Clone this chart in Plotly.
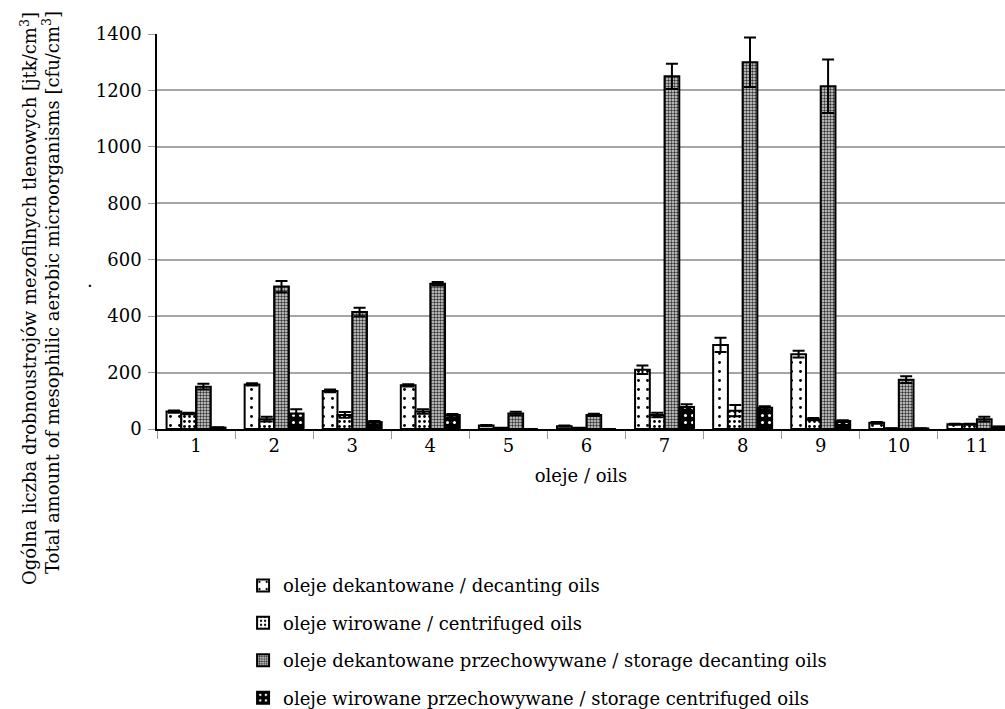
import plotly.graph_objects as go

categories = ["1", "2", "3", "4", "5", "6", "7", "8", "9", "10", "11"]

decanting = [62, 158, 135, 155, 12, 10, 210, 298, 265, 22, 17]
decanting_err = [4, 4, 5, 4, 2, 2, 15, 25, 12, 3, 2]

centrifuged = [55, 35, 50, 62, 3, 3, 50, 65, 35, 2, 17]
centrifuged_err = [3, 8, 10, 8, 1, 1, 8, 20, 4, 1, 2]

storage_decanting = [150, 505, 415, 515, 55, 50, 1250, 1300, 1215, 175, 35]
storage_decanting_err = [10, 20, 15, 6, 6, 4, 45, 88, 95, 12, 8]

storage_centrifuged = [5, 55, 25, 50, 0, 0, 78, 75, 28, 2, 8]
storage_centrifuged_err = [1, 15, 3, 3, 0, 0, 10, 6, 3, 1, 1]

names = [
    "oleje dekantowane / decanting oils",
    "oleje wirowane / centrifuged oils",
    "oleje dekantowane przechowywane / storage decanting oils",
    "oleje wirowane przechowywane / storage centrifuged oils",
]

y_title_pl = "Ogólna liczba drobnoustrojów mezofilnych tlenowych [jtk/cm<sup>3</sup>]"
y_title_en = "Total amount of mesophilic aerobic microorganisms [cfu/cm<sup>3</sup>]"
x_title = "oleje / oils"

FONT = "DejaVu Serif"
FS = 18

series = [
    (decanting, decanting_err, dict(shape=".", fgcolor="black", bgcolor="white", size=9, solidity=0.08)),
    (centrifuged, centrifuged_err, dict(shape=".", fgcolor="black", bgcolor="white", size=5, solidity=0.25)),
    (storage_decanting, storage_decanting_err, dict(shape=".", fgcolor="#333333", bgcolor="#dddddd", size=3, solidity=0.5)),
    (storage_centrifuged, storage_centrifuged_err, dict(shape=".", fgcolor="white", bgcolor="black", size=7, solidity=0.15)),
]

fig = go.Figure()
for i, (vals, errs, pat) in enumerate(series):
    fig.add_trace(go.Bar(
        x=categories,
        y=vals,
        name=names[i],
        legendgroup=str(i),
        marker=dict(
            color=pat["bgcolor"],
            line=dict(color="black", width=2),
            pattern=dict(shape=pat["shape"], fgcolor=pat["fgcolor"], bgcolor=pat["bgcolor"],
                         size=pat["size"], solidity=pat["solidity"], fillmode="replace"),
        ),
        error_y=dict(type="data", array=errs, visible=True, color="black", thickness=2, width=6),
    ))

fig.update_layout(
    width=1005,
    height=709,
    barmode="group",
    bargap=0.245,
    bargroupgap=0,
    plot_bgcolor="white",
    paper_bgcolor="white",
    margin=dict(l=157, r=0, t=34, b=280, autoexpand=False),
    font=dict(family=FONT, size=FS, color="black"),
    showlegend=True,
    legend=dict(
        x=0.1015, y=-0.35, xanchor="left", yanchor="top",
        font=dict(family=FONT, size=FS, color="black"),
        tracegroupgap=11,
        bgcolor="rgba(0,0,0,0)",
        itemwidth=30,
    ),
    xaxis=dict(
        type="category",
        range=[-0.5, 10.36],
        automargin=False,
        showline=True, linecolor="black", linewidth=1.5,
        ticks="outside", tickson="boundaries", ticklen=8, tickcolor="#999999",
        tickfont=dict(family=FONT, size=FS),
        showgrid=False,
        title=dict(text=x_title, font=dict(family=FONT, size=FS), standoff=14),
    ),
    yaxis=dict(
        range=[0, 1400],
        dtick=200,
        automargin=False,
        showline=True, linecolor="black", linewidth=1.5,
        ticks="outside", ticklen=7, tickcolor="#999999",
        ticklabelstandoff=3,
        showgrid=True, gridcolor="#a6a6a6", gridwidth=1.5,
        zeroline=False,
        tickfont=dict(family=FONT, size=FS),
    ),
    annotations=[
        dict(text=y_title_pl, textangle=-90, x=-0.151, y=1.062, xref="paper", yref="paper",
             xanchor="center", yanchor="top", showarrow=False,
             font=dict(family=FONT, size=FS, color="black")),
        dict(text=y_title_en, textangle=-90, x=-0.125, y=1.062, xref="paper", yref="paper",
             xanchor="center", yanchor="top", showarrow=False,
             font=dict(family=FONT, size=FS, color="black")),
        dict(text=".", x=-0.085, y=0.377, xref="paper", yref="paper", showarrow=False,
             font=dict(family=FONT, size=FS, color="black")),
    ],
)

fig.write_html(
    "out.html",
    config={"displayModeBar": False},
    post_script="document.body.style.margin='0';document.body.style.overflow='hidden';",
)
